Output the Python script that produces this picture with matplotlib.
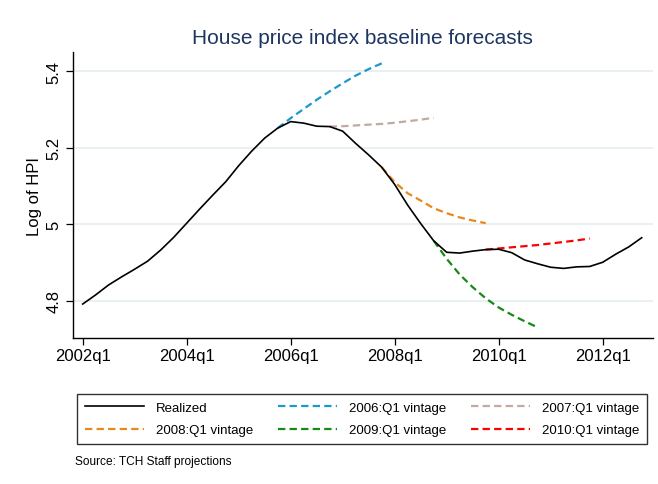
import matplotlib
matplotlib.use("Agg")
import matplotlib.pyplot as plt

plt.rcParams['font.family'] = ['Liberation Sans', 'DejaVu Sans']

# ---- data ----
years = list(range(2002, 2013))
quarters = [f"{y}q{q}" for y in years for q in range(1, 5)]
tick_labels = ["2002q1", "2004q1", "2006q1", "2008q1", "2010q1", "2012q1"]

realized = [4.792, 4.816, 4.842, 4.863, 4.883, 4.904, 4.933, 4.966,
            5.003, 5.040, 5.076, 5.111, 5.153, 5.191, 5.225, 5.251,
            5.268, 5.264, 5.256, 5.255, 5.243, 5.211, 5.181, 5.149,
            5.104, 5.050, 5.002, 4.957, 4.927, 4.925, 4.930, 4.934,
            4.935, 4.926, 4.907, 4.897, 4.888, 4.885, 4.889, 4.890,
            4.901, 4.922, 4.941, 4.965]

v2006_start = "2005q4"
v2006 = [5.251, 5.277, 5.301, 5.325, 5.347, 5.368, 5.388, 5.405, 5.420]
v2007_start = "2006q4"
v2007 = [5.255, 5.256, 5.258, 5.260, 5.262, 5.265, 5.269, 5.273, 5.278]
v2008_start = "2007q4"
v2008 = [5.149, 5.110, 5.081, 5.062, 5.042, 5.029, 5.018, 5.010, 5.003]
v2009_start = "2008q4"
v2009 = [4.957, 4.910, 4.869, 4.836, 4.807, 4.783, 4.764, 4.747, 4.731]
v2010_start = "2009q4"
v2010 = [4.934, 4.937, 4.940, 4.943, 4.946, 4.950, 4.954, 4.958, 4.963]

series_labels = ["Realized", "2006:Q1 vintage", "2007:Q1 vintage",
                 "2008:Q1 vintage", "2009:Q1 vintage", "2010:Q1 vintage"]
colors = ["black", "#1c99cc", "#c2aaa2", "#e8891c", "#168a16", "#ff0000"]

# ---- figure ----
W, H = 658, 485
fig = plt.figure(figsize=(W / 100, H / 100), dpi=100)
fig.patch.set_facecolor("white")
ax = fig.add_axes([72.7 / W, 1 - 339 / H, (653 - 72.7) / W, (339 - 53.3) / H])

qidx = {q: i for i, q in enumerate(quarters)}
xr = list(range(len(realized)))

dash = (3.3, 1.9)
handles = []
h, = ax.plot(xr, realized, color=colors[0], lw=1.2, zorder=5)
handles.append(h)
for (start, vals), c in zip([(v2006_start, v2006), (v2007_start, v2007),
                             (v2008_start, v2008), (v2009_start, v2009),
                             (v2010_start, v2010)], colors[1:]):
    s = qidx[start]
    xs = list(range(s, s + len(vals)))
    h, = ax.plot(xs, vals, color=c, lw=1.6, dashes=dash, zorder=4)
    handles.append(h)

ax.set_xlim(-0.77, 43.87)
ax.set_ylim(4.7034, 5.4488)
ax.set_yticks([4.8, 5.0, 5.2, 5.4])
ax.set_yticklabels(["4.8", "5", "5.2", "5.4"], rotation=90, va="center")
ax.set_xticks([qidx[t] for t in tick_labels])
ax.set_xticklabels(tick_labels)
ax.tick_params(axis="both", labelsize=12, length=5, width=0.9, color="black")
ax.tick_params(axis="x", pad=2)
ax.tick_params(axis="y", pad=3)
ax.grid(axis="y", color="#e7eff1", lw=1.3)
ax.set_axisbelow(True)
for s in ["top", "right"]:
    ax.spines[s].set_visible(False)
for s in ["left", "bottom"]:
    ax.spines[s].set_linewidth(1.0)
    ax.spines[s].set_color("black")

ax.set_ylabel("Log of HPI", fontsize=12)
ax.yaxis.set_label_coords(-0.053, 0.5)

ax.set_title("House price index baseline forecasts", fontsize=15,
             color="#1e3560", pad=6.5)

order = [0, 3, 1, 4, 2, 5]
leg = fig.legend([handles[i] for i in order], [series_labels[i] for i in order],
                 ncol=3, loc="center", mode="expand",
                 bbox_to_anchor=(77 / W, 1 - 447 / H, 570 / W, 54 / H),
                 fontsize=9.5, frameon=True, fancybox=False, edgecolor="black",
                 handlelength=4.5, handletextpad=0.85, labelspacing=0.75,
                 borderpad=0.6, borderaxespad=0)
leg.get_frame().set_linewidth(1.0)

fig.text(75 / W, 1 - 461.7 / H, "Source: TCH Staff projections", fontsize=8.6,
         va="center", ha="left")

fig.savefig("out.png", dpi=100)
